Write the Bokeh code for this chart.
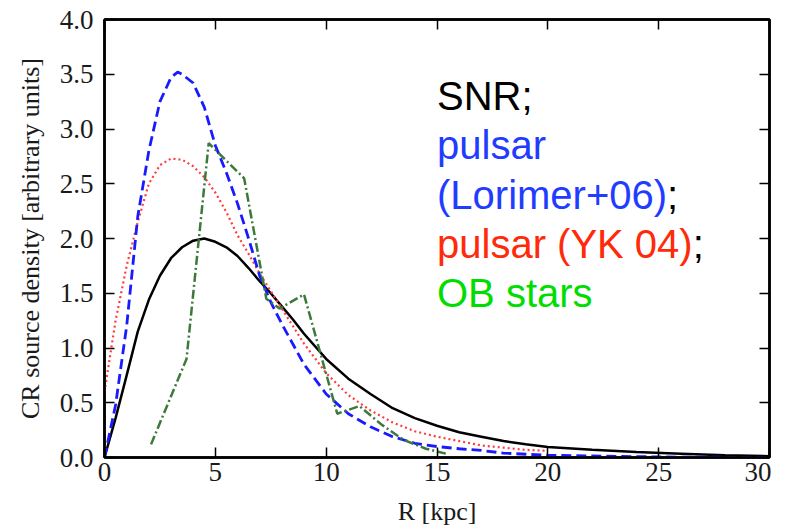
from bokeh.plotting import figure
from bokeh.models import Range1d, FixedTicker, LinearAxis, Label, NumeralTickFormatter
from bokeh.embed import file_html
from bokeh.resources import INLINE

# --- data ---
snr_r = [0, 0.5, 1, 1.5, 2, 2.5, 3, 3.5, 4, 4.5, 5, 5.5, 6, 6.5, 7, 7.5, 8, 8.5, 9, 10,
         11, 12, 13, 14, 15, 16, 17, 18, 19, 20, 22, 24, 26, 28, 30]
snr_v = [0, 0.36, 0.75, 1.15, 1.44, 1.66, 1.82, 1.92, 1.98, 2.0, 1.97, 1.92, 1.84, 1.73,
         1.61, 1.5, 1.38, 1.26, 1.13, 0.9, 0.72, 0.58, 0.45, 0.36, 0.29, 0.23, 0.19, 0.15,
         0.12, 0.095, 0.07, 0.05, 0.035, 0.02, 0.012]

lor_r = [0, 0.5, 1, 1.5, 2, 2.5, 3, 3.3, 3.5, 4, 4.5, 5, 5.5, 6, 6.5, 7, 7.5, 8, 9, 10,
         11, 12, 13, 14, 15, 16, 17, 18, 20, 25, 30]
lor_v = [0, 0.48, 1.2, 2.2, 2.8, 3.25, 3.47, 3.52, 3.5, 3.42, 3.2, 2.85, 2.6, 2.32, 2.0,
         1.66, 1.42, 1.22, 0.85, 0.58, 0.4, 0.28, 0.19, 0.13, 0.1, 0.08, 0.065, 0.04,
         0.02, 0.005, 0]

yk_r = [0, 0.5, 1, 1.5, 2, 2.5, 3, 3.5, 4, 4.5, 5, 5.5, 6, 6.5, 7, 7.5, 8, 9, 10, 11,
        12, 13, 14, 15, 16, 17, 18, 19, 20]
yk_v = [0.6, 1.25, 1.75, 2.15, 2.5, 2.67, 2.73, 2.72, 2.66, 2.56, 2.42, 2.24, 2.03, 1.86,
        1.68, 1.52, 1.36, 1.04, 0.77, 0.57, 0.43, 0.32, 0.24, 0.19, 0.15, 0.11, 0.09,
        0.07, 0.06]

ob_r = [2.1, 3.7, 4.7, 6.3, 7.3, 7.9, 9.0, 10.5, 11.5, 12.5, 13.5, 14.5, 15.5]
ob_v = [0.12, 0.9, 2.87, 2.55, 1.45, 1.36, 1.49, 0.4, 0.47, 0.3, 0.16, 0.08, 0.03]

x_ticks = [0, 5, 10, 15, 20, 25, 30]
y_ticks = [0.0, 0.5, 1.0, 1.5, 2.0, 2.5, 3.0, 3.5, 4.0]

legend_lines = [
    ("SNR;", "#000000", None),
    ("pulsar", "#1f3cff", None),
    ("(Lorimer+06)", "#1f3cff", ";"),
    ("pulsar (YK 04)", "#ff2a0a", ";"),
    ("OB stars", "#00dd00", None),
]
legend_y = [3.3, 2.85, 2.4, 1.95, 1.5]
legend_x = 15.0

SERIF = "Liberation Serif"
SANS = "Liberation Sans"
LEG_PX = 40

p = figure(width=771, height=528, output_backend="svg", toolbar_location=None,
           x_range=Range1d(0, 30), y_range=Range1d(0, 4),
           min_border_left=104, min_border_right=2, min_border_top=19, min_border_bottom=69,
           background_fill_color="white", border_fill_color="white")
p.grid.visible = False
p.outline_line_color = "black"
p.outline_line_width = 2.5

for ax in (p.xaxis[0], p.yaxis[0]):
    ax.major_tick_in = 10
    ax.major_tick_out = 0
    ax.minor_tick_line_color = None
    ax.axis_line_width = 2.5
    ax.major_tick_line_width = 1.5
    ax.major_label_text_font = SERIF
    ax.major_label_text_font_size = "27px"
    ax.major_label_text_color = "#1a1a1a"
    ax.axis_label_text_font = SERIF
    ax.axis_label_text_font_style = "normal"
    ax.axis_label_text_color = "#1a1a1a"

p.xaxis.ticker = FixedTicker(ticks=x_ticks)
p.yaxis.ticker = FixedTicker(ticks=y_ticks)
p.yaxis.formatter = NumeralTickFormatter(format="0.0")
p.xaxis.major_label_standoff = 5
p.yaxis.major_label_standoff = 11
p.yaxis.axis_label = "CR source density [arbitrary units]"
p.yaxis.axis_label_text_font_size = "26px"
p.yaxis.axis_label_standoff = 12
p.xaxis.axis_label = "R [kpc]"
p.xaxis.axis_label_text_font_size = "26px"
p.xaxis.axis_label_standoff = 13

top = LinearAxis(ticker=FixedTicker(ticks=x_ticks),
                 major_label_overrides={t: "" for t in x_ticks},
                 major_tick_in=10, major_tick_out=0, minor_tick_line_color=None,
                 axis_line_width=2.5, major_tick_line_width=1.5, major_label_standoff=0)
right = LinearAxis(ticker=FixedTicker(ticks=y_ticks),
                   major_label_overrides={t: "" for t in y_ticks},
                   major_tick_in=10, major_tick_out=0, minor_tick_line_color=None,
                   axis_line_width=2.5, major_tick_line_width=1.5, major_label_standoff=0)
p.add_layout(top, "above")
p.add_layout(right, "right")

p.line(snr_r, snr_v, line_color="black", line_width=2.5)
p.line(yk_r, yk_v, line_color="#ff3b3b", line_width=2.2, line_dash="2 3")
p.line(lor_r, lor_v, line_color="#1a1aff", line_width=2.8, line_dash="10 5")
p.line(ob_r, ob_v, line_color="#3b7a3b", line_width=2.5, line_dash="9 3 2 3")

# legend-like text block
widths = {"(Lorimer+06)": 5.751, "pulsar (YK 04)": 6.391}
for (txt, col, semi), yy in zip(legend_lines, legend_y):
    p.add_layout(Label(x=legend_x, y=yy, text=txt, text_color=col, text_font=SANS,
                       text_font_size=f"{LEG_PX}px", text_baseline="alphabetic",
                       text_align="left"))
    if semi:
        p.add_layout(Label(x=legend_x, y=yy, x_offset=widths[txt] * LEG_PX, text=semi,
                           text_color="black", text_font=SANS,
                           text_font_size=f"{LEG_PX}px", text_baseline="alphabetic",
                           text_align="left"))

open("out.html", "w").write(file_html(p, INLINE))
